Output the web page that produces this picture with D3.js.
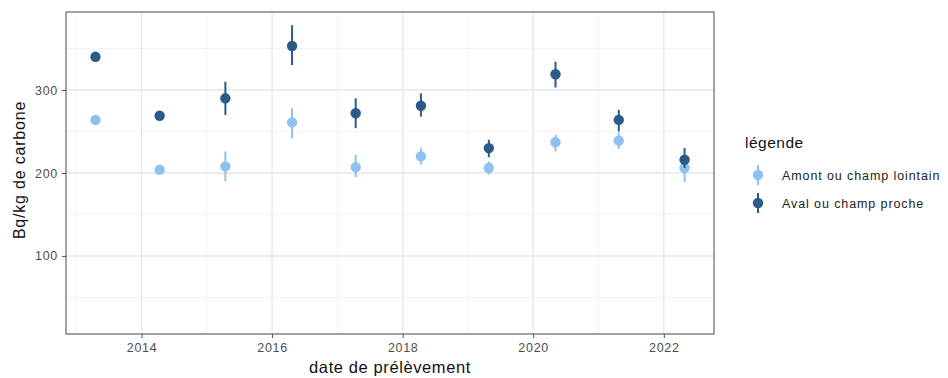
<!DOCTYPE html>
<html>
<head>
<meta charset="utf-8">
<script src="https://cdn.jsdelivr.net/npm/d3@7"></script>
<style>
  html, body { margin: 0; padding: 0; background: #fff; }
  svg text { font-family: "Liberation Sans", Arial, sans-serif; }
</style>
</head>
<body>
<svg id="chart" width="948" height="378"></svg>
<script>
// Sampling dates (one campaign per year)
const dates = ["2013-04-18", "2014-04-12", "2015-04-15", "2016-04-22", "2017-04-13",
               "2018-04-13", "2019-04-28", "2020-05-05", "2021-04-24", "2022-04-27"];

// Amont ou champ lointain: mean, lower, upper (Bq/kg de carbone)
const amontMean  = [264, 204, 208, 261, 207, 220, 206, 237, 239, 206];
const amontLow   = [259, 199, 190, 242, 195, 210, 198, 226, 229, 189];
const amontHigh  = [269, 209, 226, 278, 222, 230, 214, 246, 249, 218];

// Aval ou champ proche
const avalMean   = [340, 269, 290, 353, 272, 281, 230, 319, 264, 216];
const avalLow    = [335, 264, 270, 330, 254, 268, 219, 303, 250, 206];
const avalHigh   = [345, 274, 310, 378, 290, 296, 240, 334, 276, 230];

const seriesNames  = ["Amont ou champ lointain", "Aval ou champ proche"];
const seriesColors = ["#8fc1ef", "#2b5b89"];

const yTicks = [100, 200, 300];
const yMinor = [50, 150, 250, 350];
const yDomain = [6, 394];
const xTickYears = [2014, 2016, 2018, 2020, 2022];
const xMinorYears = [2013, 2015, 2017, 2019, 2021];

const parse = d3.timeParse("%Y-%m-%d");
const series = [
  { name: seriesNames[0], color: seriesColors[0],
    pts: dates.map((d, i) => ({ date: parse(d), v: amontMean[i], lo: amontLow[i], hi: amontHigh[i] })) },
  { name: seriesNames[1], color: seriesColors[1],
    pts: dates.map((d, i) => ({ date: parse(d), v: avalMean[i], lo: avalLow[i], hi: avalHigh[i] })) }
];

const panel = { left: 66, right: 714, top: 12, bottom: 334 };
const svg = d3.select("#chart");

// x scale: data extent with 5% padding on both sides
const ext = d3.extent(dates.map(parse));
const pad = (ext[1] - ext[0]) * 0.05;
const x = d3.scaleTime()
  .domain([new Date(+ext[0] - pad), new Date(+ext[1] + pad)])
  .range([panel.left, panel.right]);
const y = d3.scaleLinear().domain(yDomain).range([panel.bottom, panel.top]);

const yr = v => new Date(v, 0, 1);
const g = svg.append("g");

// grid
g.selectAll(".ymin").data(yMinor).join("line")
  .attr("x1", panel.left).attr("x2", panel.right)
  .attr("y1", d => y(d)).attr("y2", d => y(d))
  .attr("stroke", "#f0f0f0").attr("stroke-width", 0.8);
g.selectAll(".xmin").data(xMinorYears).join("line")
  .attr("y1", panel.top).attr("y2", panel.bottom)
  .attr("x1", d => x(yr(d))).attr("x2", d => x(yr(d)))
  .attr("stroke", "#f0f0f0").attr("stroke-width", 0.8);
g.selectAll(".ymaj").data(yTicks).join("line")
  .attr("x1", panel.left).attr("x2", panel.right)
  .attr("y1", d => y(d)).attr("y2", d => y(d))
  .attr("stroke", "#e6e6e6").attr("stroke-width", 1.3);
g.selectAll(".xmaj").data(xTickYears).join("line")
  .attr("y1", panel.top).attr("y2", panel.bottom)
  .attr("x1", d => x(yr(d))).attr("x2", d => x(yr(d)))
  .attr("stroke", "#e6e6e6").attr("stroke-width", 1.3);

// point ranges
series.forEach(s => {
  const gs = g.append("g");
  gs.selectAll("line").data(s.pts).join("line")
    .attr("x1", d => x(d.date)).attr("x2", d => x(d.date))
    .attr("y1", d => y(d.lo)).attr("y2", d => y(d.hi))
    .attr("stroke", s.color).attr("stroke-width", 2);
  gs.selectAll("circle").data(s.pts).join("circle")
    .attr("cx", d => x(d.date)).attr("cy", d => y(d.v))
    .attr("r", 5.2).attr("fill", s.color);
});

// panel border
g.append("rect")
  .attr("x", panel.left).attr("y", panel.top)
  .attr("width", panel.right - panel.left).attr("height", panel.bottom - panel.top)
  .attr("fill", "none").attr("stroke", "#666").attr("stroke-width", 1.2);

// axes
const xAxis = d3.axisBottom(x).tickValues(xTickYears.map(yr))
  .tickFormat(d3.timeFormat("%Y")).tickSize(4).tickPadding(5);
const gx = svg.append("g").attr("transform", `translate(0,${panel.bottom})`).call(xAxis);
const yAxis = d3.axisLeft(y).tickValues(yTicks).tickSize(4).tickPadding(4);
const gy = svg.append("g").attr("transform", `translate(${panel.left},0)`).call(yAxis);
[gx, gy].forEach(a => {
  a.select(".domain").remove();
  a.selectAll(".tick line").attr("stroke", "#555").attr("stroke-width", 1);
  a.selectAll(".tick text").attr("fill", "#4d4d4d").attr("font-size", 12.5)
    .attr("letter-spacing", 0.7);
});

// axis titles
svg.append("text").attr("x", (panel.left + panel.right) / 2).attr("y", 373)
  .attr("text-anchor", "middle").attr("font-size", 16.5).attr("letter-spacing", 0.6)
  .attr("fill", "#111").text("date de prélèvement");
svg.append("text")
  .attr("transform", `translate(25,${(panel.top + panel.bottom) / 2 - 3}) rotate(-90)`)
  .attr("text-anchor", "middle").attr("font-size", 16).attr("letter-spacing", 0.8)
  .attr("fill", "#111").text("Bq/kg de carbone");

// legend
const lg = svg.append("g");
lg.append("text").attr("x", 745).attr("y", 148).attr("font-size", 15.5)
  .attr("letter-spacing", 0.5).attr("fill", "#111").text("légende");
series.forEach((s, i) => {
  const cy = 175 + i * 28;
  lg.append("line").attr("x1", 758).attr("x2", 758)
    .attr("y1", cy - 10).attr("y2", cy + 10)
    .attr("stroke", s.color).attr("stroke-width", 2);
  lg.append("circle").attr("cx", 758).attr("cy", cy).attr("r", 5.2).attr("fill", s.color);
  lg.append("text").attr("x", 782).attr("y", cy + 4.5).attr("font-size", 12.5)
    .attr("letter-spacing", 0.9).attr("fill", "#222").text(s.name);
});
</script>
</body>
</html>
